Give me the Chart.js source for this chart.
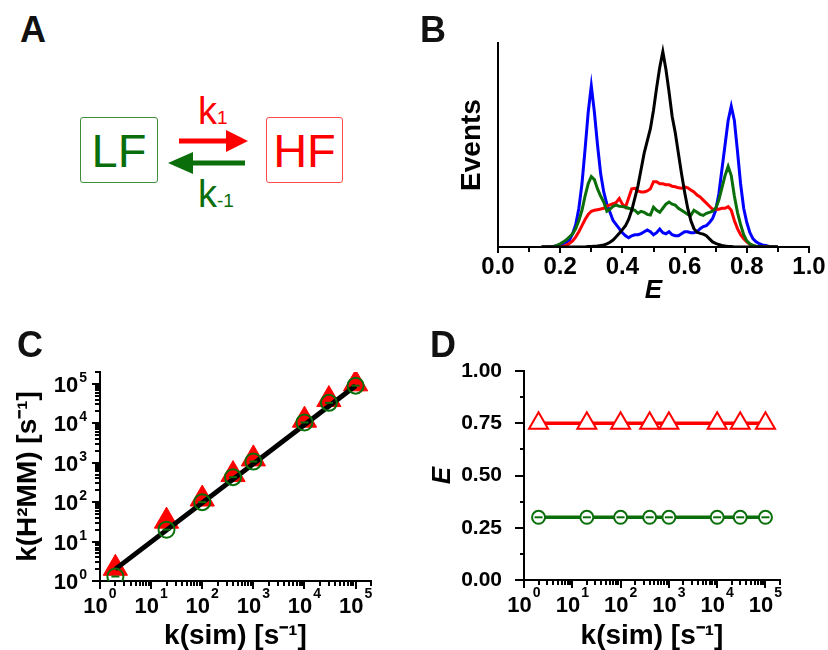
<!DOCTYPE html>
<html>
<head>
<meta charset="utf-8">
<script src="https://cdn.jsdelivr.net/npm/chart.js@4.4.1/dist/chart.umd.min.js"></script>
<style>
  body { margin: 0; background: #fff; }
  #fig { position: relative; width: 828px; height: 650px; overflow: hidden; font-family: 'Liberation Sans', Arial, sans-serif; }
  #fig canvas { position: absolute; }
  .tag { position: absolute; font-weight: bold; font-size: 36px; line-height: 1; color: #111; }
  .box { position: absolute; box-sizing: border-box; border-radius: 3px; font-size: 47px; line-height: 1; display: flex; align-items: center; justify-content: center; }
  .rate { position: absolute; font-size: 38px; line-height: 1; }
  .rate span { font-size: 19px; }
</style>
</head>
<body>
<div id="fig">
  <canvas id="chartB" width="388" height="276" style="left:440px;top:28px;width:388px;height:276px"></canvas>
  <canvas id="chartC" width="400" height="340" style="left:0px;top:310px;width:400px;height:340px"></canvas>
  <canvas id="chartD" width="408" height="340" style="left:420px;top:310px;width:408px;height:340px"></canvas>

  <div class="tag" style="left:20px;top:12px">A</div>
  <div class="tag" style="left:420px;top:12px">B</div>
  <div class="tag" style="left:17px;top:327px">C</div>
  <div class="tag" style="left:430px;top:327px">D</div>

  <!-- scheme A -->
  <div class="box" style="left:80px;top:117px;width:78px;height:66px;border:1.5px solid #3d8f3d;color:#0a6e0a">LF</div>
  <div class="box" style="left:266px;top:117px;width:77px;height:66px;border:1.5px solid #ff4a4a;color:#ff0000">HF</div>
  <svg style="position:absolute;left:0;top:0" width="400" height="300">
    <line x1="179" y1="141" x2="229" y2="141" stroke="#ff0000" stroke-width="5"/>
    <polygon points="226,130 248,141 226,152" fill="#ff0000"/>
    <line x1="245" y1="163" x2="190" y2="163" stroke="#0a6e0a" stroke-width="5"/>
    <polygon points="193,152 168,163 193,174" fill="#0a6e0a"/>
  </svg>
  <div class="rate" style="left:198px;top:92px;color:#ff0000">k<span>1</span></div>
  <div class="rate" style="left:198px;top:175px;color:#0a6e0a">k<span>-1</span></div>
</div>

<script>
// ---- panel B: FRET efficiency histograms ----
const eBins = [0.14, 0.15, 0.16, 0.17, 0.18, 0.19, 0.20, 0.21, 0.22, 0.23, 0.24, 0.25, 0.26, 0.27, 0.28, 0.29,
  0.30, 0.31, 0.32, 0.33, 0.34, 0.35, 0.36, 0.37, 0.38, 0.39, 0.40, 0.41, 0.42, 0.43, 0.44, 0.45,
  0.46, 0.47, 0.48, 0.49, 0.50, 0.51, 0.52, 0.53, 0.54, 0.55, 0.56, 0.57, 0.58, 0.59, 0.60, 0.61,
  0.62, 0.63, 0.64, 0.65, 0.66, 0.67, 0.68, 0.69, 0.70, 0.71, 0.72, 0.73, 0.74, 0.75, 0.76, 0.77,
  0.78, 0.79, 0.80, 0.81, 0.82, 0.83, 0.84, 0.85, 0.86, 0.87, 0.88, 0.89, 0.90];
const blueEvents = [0, 0, 0.2, 0.3, 0.4, 0.6, 1.0, 1.6, 2.4, 3.4, 6.5, 11, 19, 31, 48, 66,
  79, 66, 50, 36, 27, 21, 17, 13, 11, 9, 7, 5.5, 4.5, 5.5, 6, 6,
  6.5, 7.5, 8.3, 7.5, 6, 7, 8.8, 7, 6.5, 7.5, 6, 5.5, 5.5, 6.5, 7.5, 7.5,
  7, 7, 7.5, 9, 10, 10.5, 12, 14, 18, 26, 38, 50, 62, 69, 62, 47,
  31, 19, 12, 7, 4, 2.5, 1.6, 1, 0.7, 0.4, 0.2, 0.1, 0];
const greenEvents = [0, 0, 0, 0.1, 0.3, 0.8, 1.6, 2.5, 3.5, 5, 6.5, 9, 13, 18, 25, 31,
  34.5, 33, 28.5, 25, 22, 17.5, 18.5, 20, 20.5, 20, 19.8, 19.5, 19, 18.5, 18, 16.5,
  17.5, 17, 16, 15.7, 19.5, 18, 17, 19, 21, 22, 21, 20.5, 19, 18, 17, 16,
  15.5, 18, 17, 16, 15.5, 16.5, 17, 17.5, 19, 23, 29, 35, 39.5, 35, 25, 17,
  11, 6, 3, 1.5, 0.8, 0.4, 0.2, 0, 0, 0, 0, 0, 0];
const redEvents = [0, 0, 0, 0, 0, 0, 0, 0.3, 0.8, 1.8, 3, 5, 7.5, 10.5, 13.5, 16,
  17.5, 18, 18.3, 18.6, 19, 20, 20.6, 21.2, 21.8, 23.8, 21, 19.5, 24, 28.5, 28.8, 27.5,
  27, 27, 27.5, 28.5, 32, 32, 31, 31, 30.5, 30.5, 29.8, 29.5, 29, 28.8, 29.5, 29,
  28, 27, 25.5, 24.5, 23, 21.5, 20, 18.5, 18.5, 18.5, 19, 19, 19.8, 18, 13, 9,
  6, 4, 2.5, 1.3, 0.6, 0.2, 0, 0, 0, 0, 0, 0, 0];
const blackEvents = [0, 0, 0, 0, 0, 0, 0, 0, 0, 0, 0, 0, 0, 0, 0, 0.2,
  0.3, 0.4, 0.5, 0.7, 1, 1.5, 2.3, 3.4, 5, 6.7, 8.5, 10.5, 13.5, 18, 24, 30,
  38, 46, 52, 58, 67, 78, 88, 95.7, 87, 76, 64, 56, 46, 36, 27, 19,
  13, 9, 7.2, 6.7, 6.3, 5.5, 4, 2.5, 1.8, 1.2, 0.8, 0.5, 0.3, 0.2, 0, 0,
  0, 0, 0, 0, 0, 0, 0, 0, 0, 0, 0, 0, 0];
const eTicks = [0, 0.2, 0.4, 0.6, 0.8, 1.0];
const eMinorTicks = [0.1, 0.3, 0.5, 0.7, 0.9];

// ---- panels C and D: rates and efficiencies vs simulated rate ----
const kSim = [2, 20, 100, 400, 1000, 10000, 30000, 100000];
const kFitHF = [2.1, 33, 120, 500, 1250, 12000, 40000, 100000];
const kFitLF = [1.3, 20, 100, 430, 1070, 10500, 33000, 90000];
const fitLineX = [2, 100000];
const fitLineY = [2, 90000];
const eHF = [0.75, 0.75, 0.75, 0.75, 0.75, 0.75, 0.75, 0.75];
const eLF = [0.30, 0.30, 0.30, 0.30, 0.30, 0.30, 0.30, 0.30];
const decades = [1, 10, 100, 1000, 10000, 100000];
const eAxisTicks = [0, 0.25, 0.5, 0.75, 1.0];
const eAxisMinor = [0.125, 0.375, 0.625, 0.875];

const RED = '#ff0000', GREEN = '#0a6e0a', BLUE = '#0000ff', BLACK = '#000000';
const FONT = "'Liberation Sans', Arial, sans-serif";

Chart.defaults.font.family = FONT;
Chart.defaults.color = '#000';
Chart.defaults.animation = false;
Chart.defaults.plugins.legend.display = false;
Chart.defaults.plugins.tooltip.enabled = false;

const xy = (xs, ys) => ys.map((v, i) => ({ x: xs[i], y: v }));
const minorLog = () => {
  const out = [];
  decades.forEach(d => { for (let k = 2; k <= 9; k++) out.push(d * k); });
  return out;
};

// draws major/minor tick marks outward, plus "10^n" labels on log axes
const axisDecor = {
  id: 'axisDecor',
  afterDraw(chart, args, opts) {
    const ctx = chart.ctx;
    ctx.save();
    ctx.strokeStyle = '#000';
    ctx.fillStyle = '#000';
    ctx.lineWidth = 2;
    ['x', 'y'].forEach(id => {
      const cfg = opts[id];
      if (!cfg) return;
      const s = chart.scales[id];
      const marks = (cfg.minor || []).filter(v => v >= s.min && v <= s.max).map(v => [v, cfg.minorLen])
        .concat(cfg.major.map(v => [v, cfg.majorLen]));
      marks.forEach(([v, len]) => {
        const p = Math.round(s.getPixelForValue(v));
        ctx.beginPath();
        if (s.isHorizontal()) { ctx.moveTo(p, s.top); ctx.lineTo(p, s.top + len); }
        else { ctx.moveTo(s.right - len, p); ctx.lineTo(s.right, p); }
        ctx.stroke();
      });
      if (cfg.powers) {
        ctx.textBaseline = 'alphabetic';
        ctx.textAlign = 'left';
        cfg.major.forEach(v => {
          const p = s.getPixelForValue(v);
          const ex = String(Math.round(Math.log10(v)));
          ctx.font = 'bold 22px ' + FONT;
          const w1 = ctx.measureText('10').width;
          ctx.font = 'bold 14px ' + FONT;
          const w2 = ctx.measureText(ex).width;
          if (s.isHorizontal()) {
            const x0 = p - (w1 + w2 + 1) / 2;
            ctx.font = 'bold 22px ' + FONT;
            ctx.fillText('10', x0, s.top + 32);
            ctx.font = 'bold 14px ' + FONT;
            ctx.fillText(ex, x0 + w1 + 1, s.top + 17);
          } else {
            const xr = s.right - 13;
            ctx.font = 'bold 22px ' + FONT;
            ctx.fillText('10', xr - w2 - 1 - w1, p + 8);
            ctx.font = 'bold 14px ' + FONT;
            ctx.fillText(ex, xr - w2, p - 2);
          }
        });
      }
    });
    ctx.restore();
  }
};

const borderCfg = { display: true, color: '#000', width: 2 };
const bold = (size, style) => ({ family: FONT, size: size, weight: 'bold', style: style || 'normal', lineHeight: 1 });

// ---- B ----
const lineSet = (data, color) => ({
  data: xy(eBins, data), borderColor: color, borderWidth: 3, pointRadius: 0, tension: 0, fill: false
});
new Chart(document.getElementById('chartB'), {
  type: 'line',
  data: {
    datasets: [
      lineSet(blackEvents, BLACK),
      lineSet(greenEvents, GREEN),
      lineSet(redEvents, RED),
      lineSet(blueEvents, BLUE)
    ]
  },
  options: {
    responsive: false,
    devicePixelRatio: 1,
    layout: { padding: { top: 15, right: 19, left: 0, bottom: 0 } },
    scales: {
      x: {
        type: 'linear', min: 0, max: 1,
        grid: { display: false }, border: borderCfg,
        afterBuildTicks: s => { s.ticks = eTicks.map(v => ({ value: v })); },
        afterFit: s => { s.height = 57; },
        ticks: { font: bold(24), padding: 0, maxRotation: 0, callback: v => v.toFixed(1) },
        title: { display: true, text: 'E', font: bold(26, 'italic'), padding: { top: 0, bottom: 0 } }
      },
      y: {
        min: 0, max: 100,
        grid: { display: false }, border: borderCfg,
        ticks: { display: false },
        afterFit: s => { s.width = 58; },
        title: { display: true, text: 'Events', font: bold(28), padding: { top: 18, bottom: 0 } }
      }
    },
    plugins: {
      axisDecor: { x: { major: eTicks, minor: eMinorTicks, majorLen: 6, minorLen: 5 } }
    }
  },
  plugins: [axisDecor]
});

// ---- C ----
new Chart(document.getElementById('chartC'), {
  type: 'line',
  data: {
    datasets: [
      { data: xy(kSim, kFitLF), showLine: false, pointStyle: 'circle', pointRadius: 8,
        pointBorderColor: GREEN, pointBackgroundColor: 'rgba(0,0,0,0)', pointBorderWidth: 2 },
      { data: xy(kSim, kFitLF), showLine: false, pointStyle: 'line', pointRadius: 4,
        pointBorderColor: GREEN, pointBorderWidth: 2 },
      { data: xy(fitLineX, fitLineY), borderColor: BLACK, borderWidth: 5, pointRadius: 0 },
      { data: xy(kSim, kFitHF), showLine: false, pointStyle: 'triangle', pointRadius: 14,
        pointBorderColor: RED, pointBackgroundColor: RED, pointBorderWidth: 1 }
    ]
  },
  options: {
    responsive: false,
    devicePixelRatio: 1,
    layout: { padding: { top: 62, right: 29, left: 0, bottom: 0 } },
    scales: {
      x: {
        type: 'logarithmic', min: 1, max: 200000,
        grid: { display: false }, border: borderCfg,
        ticks: { display: false },
        afterFit: s => { s.height = 69; },
        title: { display: true, text: 'k(sim) [s\u207B\u00B9]', font: bold(28), padding: { top: 0, bottom: 0 } }
      },
      y: {
        type: 'logarithmic', min: 1, max: 200000,
        grid: { display: false }, border: borderCfg,
        ticks: { display: false },
        afterFit: s => { s.width = 100; },
        title: { display: true, text: 'k(H\u00B2MM) [s\u207B\u00B9]', font: bold(28), padding: { top: 14, bottom: 0 } }
      }
    },
    plugins: {
      axisDecor: {
        x: { major: decades, minor: minorLog(), majorLen: 8, minorLen: 5, powers: true },
        y: { major: decades, minor: minorLog(), majorLen: 8, minorLen: 5, powers: true }
      }
    }
  },
  plugins: [axisDecor]
});

// ---- D ----
new Chart(document.getElementById('chartD'), {
  type: 'line',
  data: {
    datasets: [
      { data: xy(kSim, eLF), showLine: false, pointStyle: 'line', pointRadius: 4,
        pointBorderColor: GREEN, pointBorderWidth: 2 },
      { data: xy(kSim, eLF), borderColor: GREEN, borderWidth: 3.5, pointStyle: 'circle', pointRadius: 6.5,
        pointBorderColor: GREEN, pointBackgroundColor: '#fff', pointBorderWidth: 2 },
      { data: xy(kSim, eHF), borderColor: RED, borderWidth: 3.5, pointStyle: 'triangle', pointRadius: 11,
        pointBorderColor: RED, pointBackgroundColor: '#fff', pointBorderWidth: 2 }
    ]
  },
  options: {
    responsive: false,
    devicePixelRatio: 1,
    layout: { padding: { top: 61, right: 48, left: 0, bottom: 0 } },
    scales: {
      x: {
        type: 'logarithmic', min: 1, max: 200000,
        grid: { display: false }, border: borderCfg,
        ticks: { display: false },
        afterFit: s => { s.height = 70; },
        title: { display: true, text: 'k(sim) [s\u207B\u00B9]', font: bold(28), padding: { top: 0, bottom: 0 } }
      },
      y: {
        min: 0, max: 1,
        grid: { display: false }, border: borderCfg,
        afterBuildTicks: s => { s.ticks = eAxisTicks.map(v => ({ value: v })); },
        afterFit: s => { s.width = 104; },
        ticks: { font: bold(21), padding: 14, callback: v => v.toFixed(2) },
        title: { display: true, text: 'E', font: bold(26, 'italic'), padding: { top: 10, bottom: 0 } }
      }
    },
    plugins: {
      axisDecor: {
        x: { major: decades, minor: minorLog(), majorLen: 8, minorLen: 5, powers: true },
        y: { major: eAxisTicks, minor: eAxisMinor, majorLen: 9, minorLen: 4 }
      }
    }
  },
  plugins: [axisDecor]
});
</script>
</body>
</html>
